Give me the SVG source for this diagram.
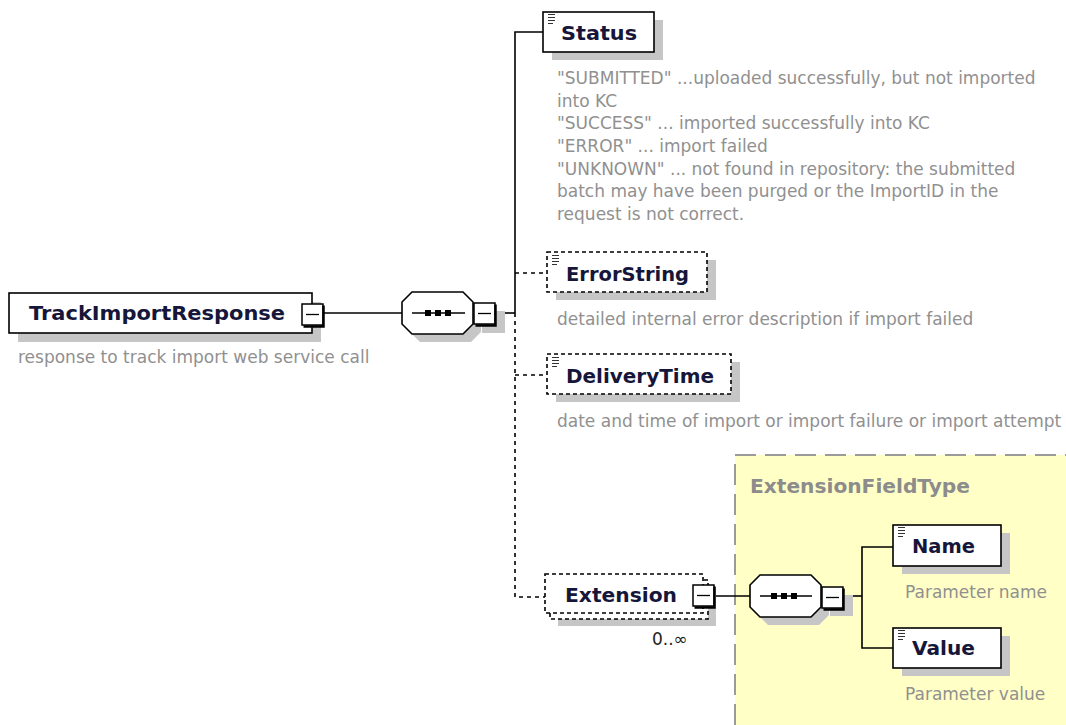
<svg xmlns="http://www.w3.org/2000/svg" width="1066" height="725" viewBox="0 0 1066 725">
  <defs>
    <style>
      .box{fill:#fff;stroke:#000;stroke-width:1.6}
      .opt{fill:#fff;stroke:#000;stroke-width:1.6;stroke-dasharray:4 3}
      .shadow{fill:#c6c6c6}
      .lbl{font-family:"DejaVu Sans",sans-serif;font-weight:bold;font-size:20px;fill:#16163a}
      .desc{font-family:"DejaVu Sans",sans-serif;font-size:17px;fill:#909090}
      .occ{font-family:"DejaVu Sans",sans-serif;font-size:17px;fill:#222}
      .type{font-family:"DejaVu Sans",sans-serif;font-weight:bold;font-size:20px;fill:#8c8c8c}
      .wire{fill:none;stroke:#000;stroke-width:1.6}
      .wire-opt{fill:none;stroke:#000;stroke-width:1.6;stroke-dasharray:4 4}
      .icon{fill:none;stroke:#333;stroke-width:1.2}
    </style>
    <!-- "simple content" marker drawn in the corner of element boxes -->
    <path id="docIcon" class="icon" d="M0 0.5h7M0 3.5h7M0 6.5h7M0 9.5h5"/>
    <!-- collapse button -->
    <g id="minusBtn">
      <rect x="0" y="0" width="21" height="21" fill="#fff" stroke="#000" stroke-width="1.5"/>
      <path d="M21.5 1.5V22.5H1.5" fill="none" stroke="#000" stroke-width="2.5"/>
      <path d="M4 10.5H17" stroke="#000" stroke-width="1.3"/>
    </g>
    <!-- sequence compositor body (octagon), origin at left/top -->
    <path id="seqShape" d="M10 0H61L71 10V32L61 42H10L0 32V10Z"/>
  </defs>

  <!-- complex type area -->
  <g id="extension-field-type">
    <rect x="735" y="455" width="400" height="320" fill="#ffffc6" stroke="#9a9a9a" stroke-width="2" stroke-dasharray="21 9"/>
    <text class="type" x="750" y="493" textLength="220" lengthAdjust="spacingAndGlyphs">ExtensionFieldType</text>
  </g>

  <!-- connectors -->
  <g id="connectors">
    <path class="wire" d="M323 313H402"/>
    <path class="wire" d="M498 313H515"/>
    <path class="wire" d="M543 32H515V313"/>
    <path class="wire-opt" d="M515 273H547"/>
    <path class="wire-opt" d="M515 375H547"/>
    <path class="wire-opt" d="M515 313V597H545"/>
    <path class="wire" d="M715 596H750"/>
    <path class="wire" d="M845 596H862"/>
    <path class="wire" d="M893 547H862V648H893"/>
  </g>

  <!-- root element -->
  <g id="node-TrackImportResponse">
    <rect class="shadow" x="18" y="302" width="303" height="40"/>
    <rect class="box" x="9" y="293" width="303" height="40"/>
    <text class="lbl" x="29" y="320" textLength="256" lengthAdjust="spacingAndGlyphs">TrackImportResponse</text>
    <use href="#minusBtn" x="302" y="304"/>
    <text class="desc" x="18" y="363">response to track import web service call</text>
  </g>

  <!-- sequence -->
  <g id="node-sequence">
    <use href="#seqShape" x="410" y="300" class="shadow"/>
    <rect class="shadow" x="482" y="311" width="23" height="22"/>
    <use href="#seqShape" x="402" y="292" fill="#fff" stroke="#000" stroke-width="1.6"/>
    <path d="M412 313H465" stroke="#000" stroke-width="1.5"/>
    <rect x="425" y="310" width="6" height="6"/>
    <rect x="435" y="310" width="6" height="6"/>
    <rect x="445" y="310" width="6" height="6"/>
    <use href="#minusBtn" x="474" y="303"/>
  </g>

  <!-- Status -->
  <g id="node-Status">
    <rect class="shadow" x="552" y="20" width="111" height="40"/>
    <rect class="box" x="543" y="12" width="111" height="40"/>
    <use href="#docIcon" x="548" y="14"/>
    <text class="lbl" x="561" y="40" textLength="76" lengthAdjust="spacingAndGlyphs">Status</text>
    <text class="desc" x="557" y="84">
      <tspan x="557" y="84">"SUBMITTED" ...uploaded successfully, but not imported</tspan>
      <tspan x="557" y="106.7">into KC</tspan>
      <tspan x="557" y="129.3">"SUCCESS" ... imported successfully into KC</tspan>
      <tspan x="557" y="152">"ERROR" ... import failed</tspan>
      <tspan x="557" y="174.7">"UNKNOWN" ... not found in repository: the submitted</tspan>
      <tspan x="557" y="197.3">batch may have been purged or the ImportID in the</tspan>
      <tspan x="557" y="220">request is not correct.</tspan>
    </text>
  </g>

  <!-- ErrorString -->
  <g id="node-ErrorString">
    <rect class="shadow" x="556" y="260" width="160" height="40"/>
    <rect class="opt" x="547" y="252" width="160" height="40"/>
    <use href="#docIcon" x="552" y="255"/>
    <text class="lbl" x="566" y="281" textLength="123" lengthAdjust="spacingAndGlyphs">ErrorString</text>
    <text class="desc" x="557" y="325">detailed internal error description if import failed</text>
  </g>

  <!-- DeliveryTime -->
  <g id="node-DeliveryTime">
    <rect class="shadow" x="556" y="362" width="184" height="40"/>
    <rect class="opt" x="547" y="354" width="184" height="40"/>
    <use href="#docIcon" x="552" y="357"/>
    <text class="lbl" x="566" y="383" textLength="148" lengthAdjust="spacingAndGlyphs">DeliveryTime</text>
    <text class="desc" x="557" y="427">date and time of import or import failure or import attempt</text>
  </g>

  <!-- Extension (repeating) -->
  <g id="node-Extension">
    <rect class="shadow" x="558" y="587" width="158" height="39"/>
    <rect class="opt" x="550" y="580" width="158" height="39"/>
    <rect class="opt" x="545" y="574" width="158" height="39"/>
    <text class="lbl" x="565" y="602" textLength="112" lengthAdjust="spacingAndGlyphs">Extension</text>
    <use href="#minusBtn" x="693" y="585"/>
    <text class="occ" x="652" y="645">0..∞</text>
  </g>

  <!-- inner sequence -->
  <g id="node-sequence-ext">
    <use href="#seqShape" x="758" y="583" class="shadow"/>
    <rect class="shadow" x="830" y="595" width="23" height="21"/>
    <use href="#seqShape" x="750" y="575" fill="#fff" stroke="#000" stroke-width="1.6"/>
    <path d="M760 596H812" stroke="#000" stroke-width="1.5"/>
    <rect x="771" y="593" width="6" height="6"/>
    <rect x="781" y="593" width="6" height="6"/>
    <rect x="791" y="593" width="6" height="6"/>
    <use href="#minusBtn" x="822" y="587"/>
  </g>

  <!-- Name -->
  <g id="node-Name">
    <rect class="shadow" x="902" y="533" width="108" height="41"/>
    <rect class="box" x="893" y="525" width="108" height="41"/>
    <use href="#docIcon" x="898" y="527"/>
    <text class="lbl" x="912" y="553" textLength="63" lengthAdjust="spacingAndGlyphs">Name</text>
    <text class="desc" x="905" y="598">Parameter name</text>
  </g>

  <!-- Value -->
  <g id="node-Value">
    <rect class="shadow" x="902" y="636" width="108" height="40"/>
    <rect class="box" x="893" y="628" width="108" height="40"/>
    <use href="#docIcon" x="898" y="630"/>
    <text class="lbl" x="912" y="655" textLength="63" lengthAdjust="spacingAndGlyphs">Value</text>
    <text class="desc" x="905" y="700">Parameter value</text>
  </g>
</svg>
